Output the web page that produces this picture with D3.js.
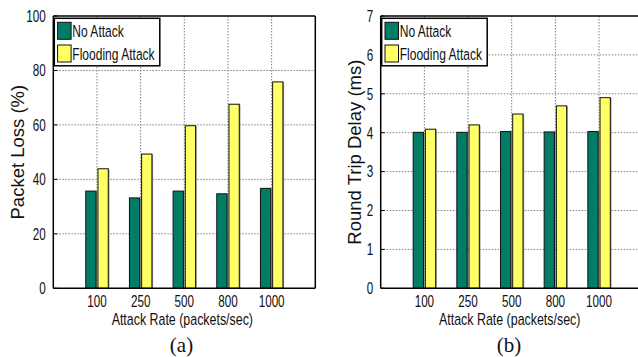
<!DOCTYPE html>
<html>
<head>
<meta charset="utf-8">
<script src="https://cdn.jsdelivr.net/npm/d3@7"></script>
<style>
  html, body { margin: 0; padding: 0; background: #fff; }
  svg { display: block; }
</style>
</head>
<body>
<svg id="fig" width="638" height="357"></svg>
<script>
// Attack rates on the x axis
const categories = ["100", "250", "500", "800", "1000"];
const seriesNames = ["No Attack", "Flooding Attack"];

// (a) packet loss, percent
const lossNoAttack = [35.7, 33.2, 35.7, 34.7, 36.7];
const lossFlooding = [43.9, 49.3, 59.7, 67.6, 75.8];
const lossTicks = [0, 20, 40, 60, 80, 100];

// (b) round trip delay, ms
const rttNoAttack = [4.01, 4.01, 4.03, 4.02, 4.03];
const rttFlooding = [4.09, 4.2, 4.48, 4.69, 4.9];
const rttTicks = [0, 1, 2, 3, 4, 5, 6, 7];

const colors = ["#007d66", "#ffff66"];
const squash = 0.73;      // narrow glyphs used for the horizontal labels
const font = "'Liberation Sans', Arial, Helvetica, sans-serif";

const svg = d3.select("#fig");

// horizontally condensed text placed at (x, y)
function label(g, x, y, text, size, anchor) {
  return g.append("g")
    .attr("transform", `translate(${x},${y}) scale(${squash},1)`)
    .append("text")
    .attr("font-family", font)
    .attr("font-size", size)
    .attr("text-anchor", anchor)
    .attr("fill", "#111")
    .text(text);
}

function panel(opts) {
  const { left, top, width, height, yMax, ticks, a, b, yTitle, yTitleX, caption, rightBorder } = opts;
  const g = svg.append("g");
  const x = d3.scaleLinear().domain([0, categories.length + 1]).range([left, left + width]);
  const y = d3.scaleLinear().domain([0, yMax]).range([top + height, top]);

  // dotted grid
  g.append("g").selectAll("line").data(ticks.filter(t => t > 0 && t < yMax)).join("line")
    .attr("x1", left).attr("x2", left + width)
    .attr("y1", d => y(d)).attr("y2", d => y(d))
    .attr("stroke", "#808080").attr("stroke-width", 1).attr("stroke-dasharray", "1.5,1.5");
  g.append("g").selectAll("line").data(categories).join("line")
    .attr("x1", (d, i) => x(i + 1)).attr("x2", (d, i) => x(i + 1))
    .attr("y1", top).attr("y2", top + height)
    .attr("stroke", "#808080").attr("stroke-width", 1).attr("stroke-dasharray", "1.5,1.5");

  // bars: series 0 left of the category line, series 1 right of it
  const barW = 10.3;
  const offsets = [-11.2, 1.0];
  [a, b].forEach((vals, s) => {
    const bars = g.append("g");
    // soft grey edge on the right of each bar
    bars.selectAll("rect.sh").data(vals).join("rect")
      .attr("class", "sh")
      .attr("x", (d, i) => x(i + 1) + offsets[s] + 1.2)
      .attr("y", d => y(d) + 0.5)
      .attr("width", barW)
      .attr("height", d => y(0) - y(d) - 0.5)
      .attr("fill", "#9a9a9a");
    bars.selectAll("rect.bar").data(vals).join("rect")
      .attr("class", "bar")
      .attr("x", (d, i) => x(i + 1) + offsets[s])
      .attr("y", d => y(d))
      .attr("width", barW)
      .attr("height", d => y(0) - y(d))
      .attr("fill", colors[s])
      .attr("stroke", "#111").attr("stroke-width", 1);
  });

  // frame
  const frame = [[left, top, left, top + height], [left, top + height, left + width, top + height],
                 [left, top, left + width, top]];
  if (rightBorder) frame.push([left + width, top, left + width, top + height]);
  g.append("g").selectAll("line").data(frame).join("line")
    .attr("x1", d => d[0]).attr("y1", d => d[1]).attr("x2", d => d[2]).attr("y2", d => d[3])
    .attr("stroke", "#000").attr("stroke-width", 1.5);
  // inward tick marks on the y axis
  g.append("g").selectAll("line").data(ticks).join("line")
    .attr("x1", left).attr("x2", left + 4)
    .attr("y1", d => y(d)).attr("y2", d => y(d))
    .attr("stroke", "#000").attr("stroke-width", 1);

  // y tick labels
  ticks.forEach(t => label(g, left - 7.5, y(t) + 5.8, String(t), 16, "end"));
  // x tick labels
  categories.forEach((c, i) => label(g, x(i + 1), top + height + 19, c, 16, "middle"));
  // axis titles
  const cx = left + width / 2;
  g.append("text")
    .attr("transform", `translate(${yTitleX},${top + height / 2}) rotate(-90)`)
    .attr("dy", "0.36em")
    .attr("font-family", font).attr("font-size", 18.5)
    .attr("text-anchor", "middle").attr("fill", "#111")
    .text(yTitle);
  label(g, cx - 2, top + height + 37, "Attack Rate (packets/sec)", 17, "middle");
  // caption
  g.append("text")
    .attr("x", opts.captionX).attr("y", 352)
    .attr("font-family", "'Liberation Serif', 'Times New Roman', serif")
    .attr("font-size", 21).attr("text-anchor", "middle").attr("fill", "#111")
    .text(caption);

  // legend
  const lg = g.append("g");
  const lx = left + 1, ly = top + 2.3;
  lg.append("rect").attr("x", lx).attr("y", ly).attr("width", 105.5).attr("height", 47.5)
    .attr("fill", "#fff").attr("stroke", "#000").attr("stroke-width", 1.5);
  seriesNames.forEach((n, s) => {
    lg.append("rect").attr("x", lx + 3.3).attr("y", ly + 4 + s * 22.7)
      .attr("width", 13.5).attr("height", 17)
      .attr("fill", colors[s]).attr("stroke", "#111").attr("stroke-width", 1);
    label(lg, lx + 18, ly + 19 + s * 22.7, n, 16.5, "start");
  });
}

panel({
  left: 53.3, top: 16, width: 262, height: 272.3, yMax: 100, ticks: lossTicks,
  a: lossNoAttack, b: lossFlooding, yTitle: "Packet Loss (%)", yTitleX: 17.5,
  caption: "(a)", captionX: 181.5, rightBorder: true
});
panel({
  left: 380.7, top: 16, width: 262, height: 272.3, yMax: 7, ticks: rttTicks,
  a: rttNoAttack, b: rttFlooding, yTitle: "Round Trip Delay (ms)", yTitleX: 354,
  caption: "(b)", captionX: 509, rightBorder: true
});
</script>
</body>
</html>
